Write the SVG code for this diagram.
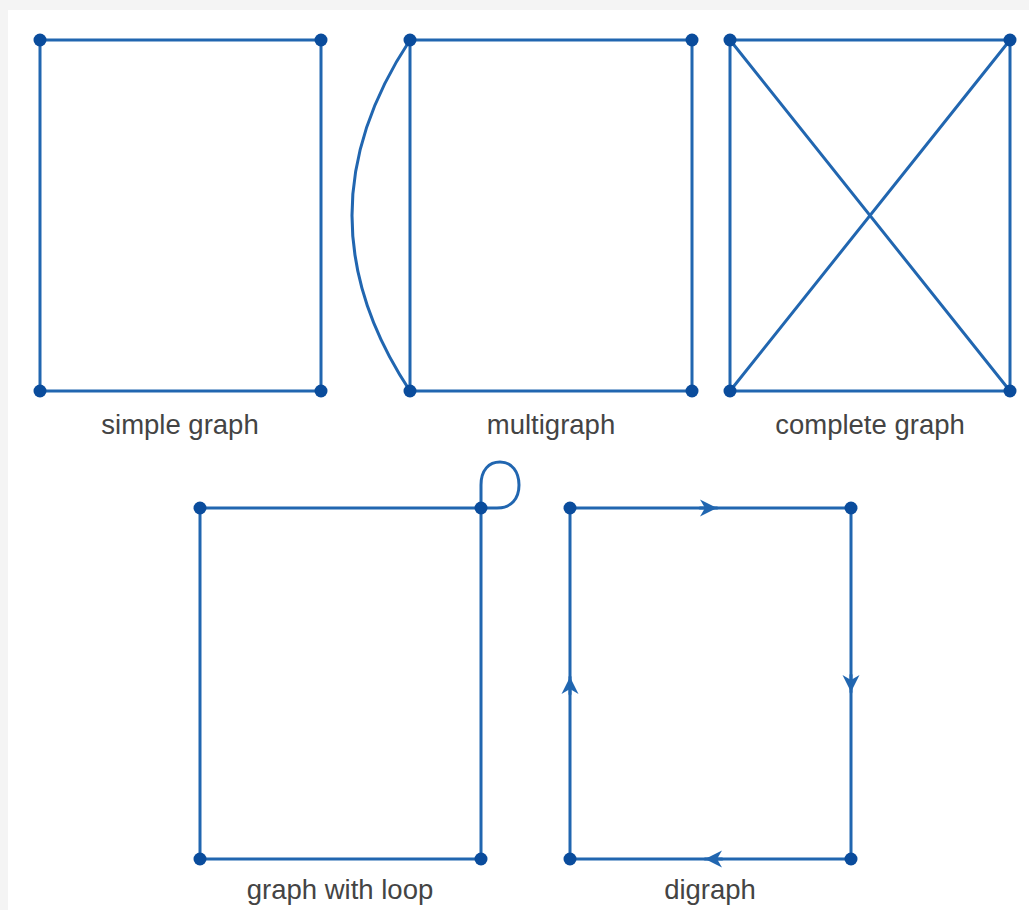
<svg xmlns="http://www.w3.org/2000/svg" width="1029" height="910" viewBox="0 0 1029 910">
<style>
.e{fill:none;stroke:#2166b0;stroke-width:3;stroke-linecap:round}
.n{fill:#0a4c9c}
.t{font-family:"Liberation Sans",Arial,sans-serif;font-size:27.5px;fill:#444;text-anchor:middle}
</style>
<defs>
<marker id="ah" viewBox="-18 -9 20 18" markerWidth="20" markerHeight="18" refX="0" refY="0" orient="auto" markerUnits="userSpaceOnUse">
<path d="M0,0 L-17,-8.5 L-12,0 L-17,8.5 Z" fill="#2166b0"/>
</marker>
</defs>
<rect x="0" y="0" width="1029" height="910" fill="#f4f4f4"/>
<rect x="8" y="10" width="1021" height="900" fill="#ffffff"/>
<g id="connectors">
<path class="e" d="M40,40 H321 V391 H40 Z"/>
<path class="e" d="M410,40 H692 V391 H410 Z"/>
<path class="e" d="M410,40 Q294,215.5 410,391"/>
<path class="e" d="M730,40 H1010 V391 H730 Z M730,40 L1010,391 M1010,40 L730,391"/>
<path class="e" d="M200,508 H481 V859 H200 Z"/>
<path class="e" d="M481,508 V485 C481,470 489,462 500,462 C512,462 519,472 519,485 C519,499 511,508 497,508 Z"/>
<path class="e" d="M570,508 H851 V859 H570 Z"/>
<path class="e" d="M700,508 H717" marker-end="url(#ah)"/>
<path class="e" d="M851,675 V692" marker-end="url(#ah)"/>
<path class="e" d="M722,859 H705" marker-end="url(#ah)"/>
<path class="e" d="M570,694 V677" marker-end="url(#ah)"/>
</g>
<g id="simple-graph">
<circle class="n" cx="40" cy="40" r="6.5"/><circle class="n" cx="321" cy="40" r="6.5"/>
<circle class="n" cx="40" cy="391" r="6.5"/><circle class="n" cx="321" cy="391" r="6.5"/>
<text class="t" x="180" y="434">simple graph</text>
</g>
<g id="multigraph">
<circle class="n" cx="410" cy="40" r="6.5"/><circle class="n" cx="692" cy="40" r="6.5"/>
<circle class="n" cx="410" cy="391" r="6.5"/><circle class="n" cx="692" cy="391" r="6.5"/>
<text class="t" x="551" y="434">multigraph</text>
</g>
<g id="complete-graph">
<circle class="n" cx="730" cy="40" r="6.5"/><circle class="n" cx="1010" cy="40" r="6.5"/>
<circle class="n" cx="730" cy="391" r="6.5"/><circle class="n" cx="1010" cy="391" r="6.5"/>
<text class="t" x="870" y="434">complete graph</text>
</g>
<g id="graph-with-loop">
<circle class="n" cx="200" cy="508" r="6.5"/><circle class="n" cx="481" cy="508" r="6.5"/>
<circle class="n" cx="200" cy="859" r="6.5"/><circle class="n" cx="481" cy="859" r="6.5"/>
<text class="t" x="340" y="899">graph with loop</text>
</g>
<g id="digraph">
<circle class="n" cx="570" cy="508" r="6.5"/><circle class="n" cx="851" cy="508" r="6.5"/>
<circle class="n" cx="570" cy="859" r="6.5"/><circle class="n" cx="851" cy="859" r="6.5"/>
<text class="t" x="710" y="899">digraph</text>
</g>
</svg>
